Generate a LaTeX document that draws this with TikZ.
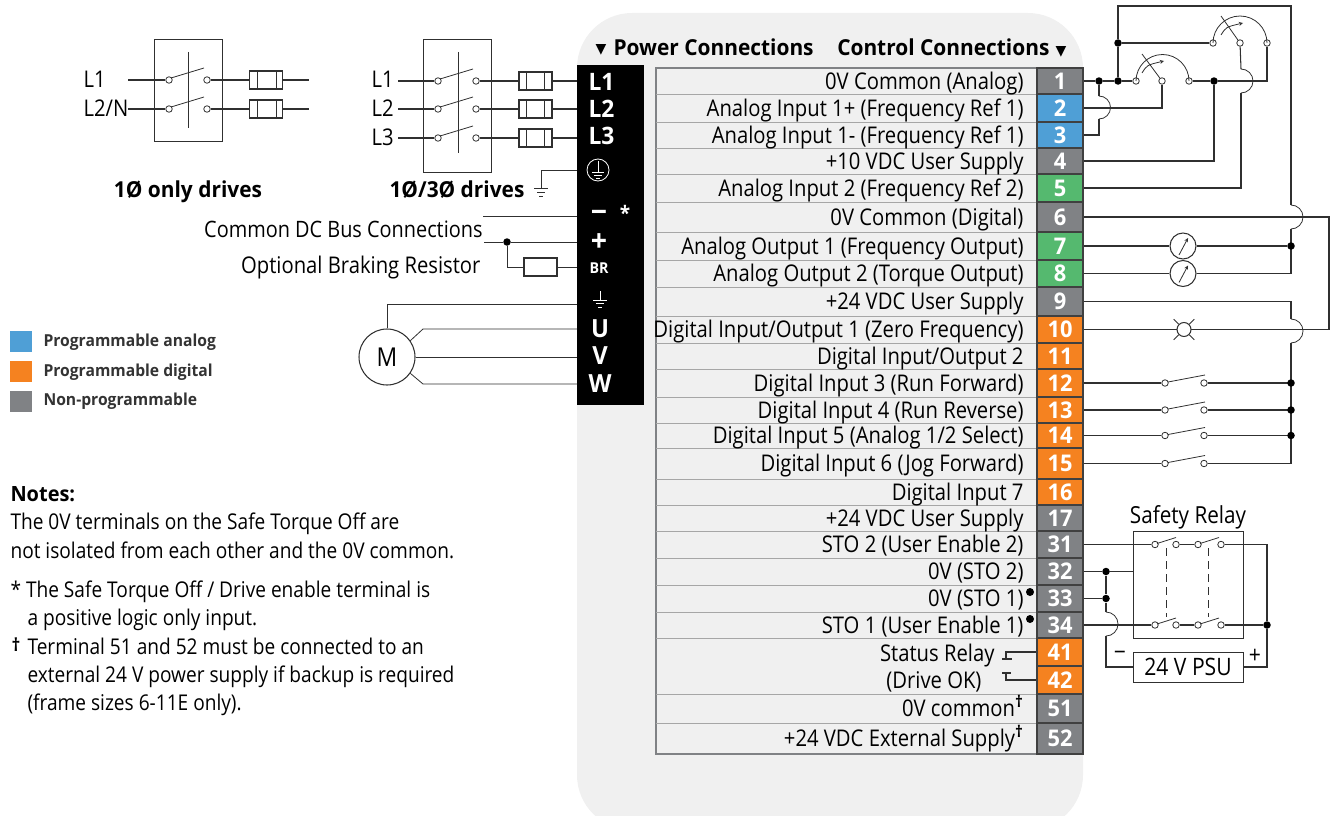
\documentclass[tikz,border=0pt]{standalone}
\usepackage{fontspec}
\setmainfont{Open Sans}[FakeStretch=0.88, BoldFeatures={FakeStretch=0.95}]
\newfontfamily\symfont{DejaVu Sans}
\usepackage{xcolor}
\usepackage{tikz}
\usetikzlibrary{arrows,shapes}
\definecolor{panelgray}{HTML}{F0F0F0}
\definecolor{termgray}{HTML}{808285}
\definecolor{termblue}{HTML}{4F9FD6}
\definecolor{termgreen}{HTML}{55B96F}
\definecolor{termorange}{HTML}{F58220}
\definecolor{wirecol}{HTML}{303030}
\begin{document}
\begin{tikzpicture}[x=1pt, y=-1pt, >=stealth, line width=1.05pt, inner sep=0pt]

      \tikzstyle{wire}=[draw=wirecol]
      \tikzstyle{thin wire}=[draw=wirecol, line width=0.8pt]
      \tikzstyle{opn}=[circle, draw=wirecol, fill=white, line width=0.8pt, minimum size=6.5pt]
      \tikzstyle{dot}=[circle, fill=black, minimum size=7.5pt]
      \tikzstyle{term}=[rectangle, draw=black!75, minimum width=46pt, text=white, font=\fontsize{23}{27}\selectfont\bfseries]
      \tikzstyle{rowtext}=[anchor=base east, font=\fontsize{23}{27}\selectfont]
      \tikzstyle{plain}=[anchor=base west, font=\fontsize{23}{27}\selectfont]
      \tikzstyle{heading}=[anchor=base, font=\fontsize{22}{26}\selectfont\bfseries]
      \tikzstyle{blk}=[text=white, font=\fontsize{25}{29}\selectfont\bfseries]
      \tikzstyle{fuse}=[rectangle, draw=wirecol, fill=white, minimum width=33pt, minimum height=18pt]
      \tikzstyle{sw box}=[rectangle, draw=wirecol, line width=0.9pt]
      \tikzstyle{meter}=[circle, draw=wirecol, fill=white, minimum size=26pt]
      \tikzstyle{legend}=[rectangle, minimum width=22pt, minimum height=21pt]
      \tikzstyle{legtext}=[anchor=base west, font=\fontsize{16.5}{20}\selectfont\bfseries, text=black!80]
      \tikzstyle{notetext}=[anchor=base west, font=\fontsize{21.7}{25}\selectfont]

      \useasboundingbox (0,0) rectangle (1332,816);
      \fill[panelgray, rounded corners=55pt] (577,13) rectangle (1083,830);
      \fill[white] (570,816) rectangle (1090,830);

      \node[heading, anchor=base west] (hpower) at (613,56) {Power Connections};
      \node[heading, anchor=base east] (hcontrol) at (1050,56) {Control Connections};
      \node[font=\symfont\fontsize{14}{16}\selectfont] (tripower) at (601,50) {▼};
      \node[font=\symfont\fontsize{14}{16}\selectfont] (tricontrol) at (1061,52) {▼};

      \draw[termgray, line width=1.2pt] (656,68) rectangle (1037,754);
      \foreach \y in {94,122,148,174,202,232,260,287,316,343,369,397,423,448,479,505,531,558,585,612,638,694,723}
        \draw[black!35, line width=1pt] (656,\y) -- (1037,\y);

      \foreach \n/\ya/\yb/\col/\txt in {
        1/68/94/termgray/{0V Common (Analog)},
        2/94/122/termblue/{Analog Input 1+ (Frequency Ref 1)},
        3/122/148/termblue/{Analog Input 1- (Frequency Ref 1)},
        4/148/174/termgray/{+10 VDC User Supply},
        5/174/202/termgreen/{Analog Input 2 (Frequency Ref 2)},
        6/202/232/termgray/{0V Common (Digital)},
        7/232/260/termgreen/{Analog Output 1 (Frequency Output)},
        8/260/287/termgreen/{Analog Output 2 (Torque Output)},
        9/287/316/termgray/{+24 VDC User Supply},
        10/316/343/termorange/{Digital Input/Output 1 (Zero Frequency)},
        11/343/369/termorange/{Digital Input/Output 2},
        12/369/397/termorange/{Digital Input 3 (Run Forward)},
        13/397/423/termorange/{Digital Input 4 (Run Reverse)},
        14/423/448/termorange/{Digital Input 5 (Analog 1/2 Select)},
        15/448/479/termorange/{Digital Input 6 (Jog Forward)},
        16/479/505/termorange/{Digital Input 7},
        17/505/531/termgray/{+24 VDC User Supply},
        31/531/558/termgray/{STO 2 (User Enable 2)},
        32/558/585/termgray/{0V (STO 2)},
        33/585/612/termgray/{0V (STO 1)},
        34/612/638/termgray/{STO 1 (User Enable 1)},
        41/638/666/termorange/{},
        42/666/694/termorange/{},
        51/694/723/termgray/{0V common\textsuperscript{\bfseries †}},
        52/723/754/termgray/{+24 VDC External Supply\textsuperscript{\bfseries †}}} {
        \pgfmathsetmacro{\ymid}{(\ya+\yb)/2}
        \pgfmathsetmacro{\yh}{\yb-\ya}
        \node[term, fill=\col, minimum height=\yh pt] (t\n) at (1060,\ymid) {\n};
        \node[rowtext] (r\n) at (1024,\ymid+8) {\txt};
      }
      \node[dot, minimum size=8pt] (b33) at (1030,592) {};
      \node[dot, minimum size=8pt] (b34) at (1030,619) {};
      \node[rowtext] (status) at (995,661) {Status Relay};
      \node[rowtext] (driveok) at (982,688) {(Drive OK)};

      \coordinate (c41a) at (1006,0 |- t41);
      \coordinate (c41b) at (1006,659);
      \coordinate (c42a) at (1006,0 |- t42);
      \coordinate (c42b) at (1006,673);
      \draw[wire] (t41.west) -- (c41a) -- (c41b);
      \draw[wire] (t42.west) -- (c42a) -- (c42b);
      \draw[wire] (1002,659) -- (1012,659);
      \draw[wire] (1002,673) -- (1011,673);

      \node[dot] (d1) at (1099,0 |- t1) {};
      \node[dot] (d2) at (1118,0 |- t1) {};
      \node[opn] (p1a) at (1136,0 |- t1) {};
      \node[opn] (p1b) at (1162,0 |- t1) {};
      \node[opn] (p1c) at (1189,0 |- t1) {};
      \node[dot] (d3) at (1214,0 |- t1) {};
      \node[dot] (d4) at (1118,43) {};
      \node[opn] (p2a) at (1213,43) {};
      \node[opn] (p2b) at (1240,43) {};
      \node[opn] (p2c) at (1267,43) {};
      \coordinate (c1top) at (1118,6);
      \coordinate (c1right) at (1291,6);
      \coordinate (c1end) at (1267,0 |- t1);
      \coordinate (j2a) at (1099,96);
      \coordinate (j2b) at (1099,119);
      \coordinate (c3) at (1099,0 |- t3);
      \coordinate (c2) at (1162,0 |- t2);
      \coordinate (c4) at (1214,0 |- t4);
      \coordinate (c5) at (1241,0 |- t5);
      \coordinate (j5a) at (1241,93);
      \coordinate (j5b) at (1241,69);
      \coordinate (j6a) at (1291,205);
      \coordinate (j6b) at (1291,229);
      \coordinate (j10a) at (1291,319);
      \coordinate (j10b) at (1291,343);
      \coordinate (c6) at (1329,0 |- t6);
      \coordinate (c10) at (1329,0 |- t10);
      \coordinate (c8) at (1291,0 |- t8);
      \coordinate (c9) at (1291,0 |- t9);
      \coordinate (c15) at (1291,0 |- t15);

      \draw[wire] (t1.east) -- (d1) -- (d2) -- (p1a) (p1c) -- (d3) -- (c1end) -- (p2c);
      \draw[wire] (d2) -- (d4) -- (c1top) -- (c1right) -- (j6a);
      \draw[wire] (d4) -- (p2a);
      \draw[thin wire] (j6a) arc[start angle=-90, end angle=90, radius=12];
      \draw[wire] (j6b) -- (c8);
      \draw[wire] (t2.east) -- (c2) -- (p1b);
      \draw[wire] (t3.east) -- (c3) -- (j2b);
      \draw[thin wire] (j2a) arc[start angle=-90, end angle=90, radius=11.5];
      \draw[wire] (j2a) -- (d1);
      \draw[wire] (t4.east) -- (c4) -- (d3);
      \draw[wire] (t5.east) -- (c5) -- (j5a);
      \draw[thin wire] (j5b) arc[start angle=-90, end angle=90, radius=12];
      \draw[wire] (j5b) -- (p2b);
      \draw[wire] (t6.east) -- (c6) -- (c10) -- (t10.east);
      \draw[wire] (t9.east) -- (c9) -- (j10a);
      \draw[thin wire] (j10a) arc[start angle=-90, end angle=90, radius=12];
      \draw[wire] (j10b) -- (c15);

      \draw[thin wire] (p1a) arc[start angle=180, end angle=360, radius=26.5];
      \draw[thin wire] (p2a) arc[start angle=180, end angle=360, radius=27];
      \draw[thin wire] (1142,54) -- (p1b);
      \draw[thin wire] (1221,16) -- (p2b);
      \draw[thin wire, ->] (1142,73) .. controls (1147,65) .. (1164,61);
      \draw[thin wire, ->] (1221,35) .. controls (1226,27) .. (1243,23);

      \node[meter] (m7) at (1183,0 |- t7) {};
      \node[meter] (m8) at (1183,0 |- t8) {};
      \node[dot] (d7) at (1291,0 |- t7) {};
      \draw[wire] (t7.east) -- (m7) -- (d7);
      \draw[wire] (t8.east) -- (m8) -- (c8);
      \draw[thin wire, ->] ([shift={(-4,9)}]m7.center) -- ([shift={(5,-8)}]m7.center);
      \draw[thin wire, ->] ([shift={(-4,9)}]m8.center) -- ([shift={(5,-8)}]m8.center);

      \node[circle, draw=wirecol, fill=white, minimum size=14pt] (l10) at (1184,0 |- t10) {};
      \draw[thin wire] (l10.45) -- ++(5,-5) (l10.135) -- ++(-5,-5) (l10.225) -- ++(-5,5) (l10.315) -- ++(5,5);

      \foreach \n in {12,13,14,15} {
        \node[opn] (a\n) at (1165,0 |- t\n) {};
        \node[opn] (b\n) at (1204,0 |- t\n) {};
        \draw[wire] (t\n.east) -- (a\n) (b\n) -- (1291,0 |- t\n);
        \draw[thin wire] (a\n) ++(3,-1) -- ++(37,-7);
      }
      \foreach \n in {12,13,14}
        \node[dot] (e\n) at (1291,0 |- t\n) {};

      \node[sw box, minimum width=110pt, minimum height=107pt] (relay) at (1188,584.5) {};
      \node[font=\fontsize{23.5}{27}\selectfont] (relaytxt) at (1188,517) {Safety Relay};
      \node[sw box, minimum width=110pt, minimum height=30pt, font=\fontsize{24}{28}\selectfont] (psu) at (1188,667) {24 V PSU};
      \foreach \n/\x in {a/1155,b/1176,c/1198,d/1221} {
        \node[opn] (s31\n) at (\x,0 |- t31) {};
        \node[opn] (s34\n) at (\x,0 |- t34) {};
      }
      \node[dot] (d32) at (1106,0 |- t32) {};
      \node[dot] (d33) at (1106,0 |- t33) {};
      \node[dot] (d34) at (1267,0 |- t34) {};
      \coordinate (c31) at (1267,0 |- t31);
      \coordinate (c32) at (1133,0 |- t32);
      \coordinate (j34a) at (1106,612);
      \coordinate (j34b) at (1106,636);
      \coordinate (cpm) at (1106,0 |- psu);
      \coordinate (cpp) at (1267,0 |- psu);
      \draw[wire] (t31.east) -- (s31a) (s31b) -- (s31c) (s31d) -- (c31) -- (d34) -- (cpp) -- (psu.east);
      \draw[wire] (t32.east) -- (d32) -- (c32);
      \draw[wire] (t33.east) -- (d33);
      \draw[wire] (d32) -- (d33) -- (j34a);
      \draw[thin wire] (j34a) arc[start angle=-90, end angle=90, radius=12];
      \draw[wire] (j34b) -- (cpm) -- (psu.west);
      \draw[wire] (t34.east) -- (s34a) (s34b) -- (s34c) (s34d) -- (d34);
      \draw[thin wire] (s31a) ++(2,-1) -- ++(19,-6);
      \draw[thin wire] (s31c) ++(2,-1) -- ++(19,-6);
      \draw[thin wire] (s34a) ++(2,-1) -- ++(19,-6);
      \draw[thin wire] (s34c) ++(2,-1) -- ++(19,-6);
      \draw[thin wire, dash pattern=on 8pt off 5pt] (1166,548) -- (1166,617);
      \draw[thin wire, dash pattern=on 8pt off 5pt] (1208,548) -- (1208,617);
      \node[font=\fontsize{24}{28}\selectfont] (psuminus) at (1120,656) {−};
      \node[font=\fontsize{24}{28}\selectfont] (psuplus) at (1255,656) {+};

      \fill[black] (577,65) rectangle (644,405);
      \foreach \n/\x/\y/\txt in {tL1/588/82/L1,tL2/588/109/L2,tL3/588/136/L3}
        \node[blk, anchor=west, font=\fontsize{24}{28}\selectfont\bfseries] (\n) at (\x,\y) {\txt};
      \node[blk, font=\fontsize{30}{32}\selectfont\bfseries] (tminus) at (599,216) {−};
      \node[blk, font=\fontsize{20}{22}\selectfont\bfseries] (tstar) at (625,213) {*};
      \node[blk, font=\fontsize{30}{32}\selectfont\bfseries] (tplus) at (599,243) {+};
      \node[blk, font=\fontsize{15}{18}\selectfont\bfseries] (tBR) at (599,268) {BR};
      \node[blk] (tU) at (600,329) {U};
      \node[blk] (tV) at (600,356) {V};
      \node[blk] (tW) at (600,384) {W};
      \node[circle, draw=white, minimum size=22pt, line width=0.8pt] (tpe) at (598,170) {};
      \draw[white, line width=0.8pt] (598,161) -- (598,172) (592,172) -- (604,172) (594,175) -- (602,175) (596,178) -- (600,178);
      \draw[white, line width=0.8pt] (600,291) -- (600,300) (593,300) -- (607,300) (596,303) -- (604,303) (598,307) -- (602,307);

      \node[plain] (lL1) at (83,87) {L1};
      \node[plain] (lL2) at (83,116) {L2/N};
      \node[sw box, minimum width=68pt, minimum height=102pt] (swa) at (188,90) {};
      \draw[thin wire] (188,52) -- (188,128);
      \foreach \n/\y in {1/80,2/109} {
        \coordinate (aL\n) at (128,\y);
        \node[opn] (ax\n) at (169,\y) {};
        \node[opn] (ay\n) at (207,\y) {};
        \node[fuse] (af\n) at (266,\y) {};
        \coordinate (ao\n) at (309,\y);
        \draw[wire] (aL\n) -- (ax\n) (ay\n) -- (af\n) -- (ao\n);
        \draw[thin wire] (ax\n) ++(2,-2) -- ++(33,-10);
        \draw[thin wire] (257,\y-9) -- (257,\y+9) (276,\y-9) -- (276,\y+9);
      }
      \node[heading] (only) at (188,197) {1Ø only drives};

      \node[plain] (bL1) at (371,87) {L1};
      \node[plain] (bL2) at (371,116) {L2};
      \node[plain] (bL3) at (371,145) {L3};
      \node[sw box, minimum width=68pt, minimum height=133pt] (swb) at (457,105.5) {};
      \draw[thin wire] (458,52) -- (458,153);
      \foreach \n/\y in {1/81,2/109,3/138} {
        \coordinate (bi\n) at (398,\y);
        \coordinate (bo\n) at (577,\y);
        \node[opn] (bx\n) at (438,\y) {};
        \node[opn] (by\n) at (476,\y) {};
        \node[fuse] (bf\n) at (535.5,\y) {};
        \draw[wire] (bi\n) -- (bx\n) (by\n) -- (bf\n) -- (bo\n);
        \draw[thin wire] (bx\n) ++(2,-2) -- ++(33,-10);
        \draw[thin wire] (526,\y-9) -- (526,\y+9) (544,\y-9) -- (544,\y+9);
      }
      \node[heading] (both) at (457,197) {1Ø/3Ø drives};
      \coordinate (pe0) at (577,170);
      \coordinate (pe1) at (541,170);
      \coordinate (pe2) at (541,188);
      \draw[thin wire] (pe0) -- (pe1) -- (pe2);
      \draw[thin wire] (534,188) -- (548,188) (537,192) -- (545,192) (539,196) -- (543,196);

      \node[rowtext, font=\fontsize{22.6}{27}\selectfont] (busTxt) at (483,237) {Common DC Bus Connections};
      \node[rowtext] (brTxt) at (481,273) {Optional Braking Resistor};
      \coordinate (dcm0) at (483,216);
      \coordinate (dcm1) at (577,216);
      \coordinate (dcp0) at (484,242);
      \coordinate (dcp1) at (577,242);
      \node[dot] (dcd) at (507,242) {};
      \coordinate (dcb) at (507,267);
      \coordinate (dce) at (577,267);
      \node[fuse] (res) at (540.5,267) {};
      \draw[thin wire] (dcm0) -- (dcm1);
      \draw[thin wire] (dcp0) -- (dcd) -- (dcp1);
      \draw[thin wire] (dcd) -- (dcb) -- (res) -- (dce);

      \node[circle, draw=wirecol, minimum size=56pt, font=\fontsize{26}{30}\selectfont] (motor) at (387,357) {M};
      \coordinate (me1) at (387,304);
      \coordinate (me2) at (577,304);
      \coordinate (mu1) at (423,329);
      \coordinate (mu2) at (577,329);
      \coordinate (mv2) at (577,357);
      \coordinate (mw1) at (423,384);
      \coordinate (mw2) at (577,384);
      \draw[thin wire] (motor.north) -- (me1) -- (me2);
      \draw[thin wire] (motor.35) -- (mu1) -- (mu2);
      \draw[thin wire] (motor.east) -- (mv2);
      \draw[thin wire] (motor.-35) -- (mw1) -- (mw2);

      \node[legend, fill=termblue] (kblue) at (21,341.5) {};
      \node[legend, fill=termorange] (korange) at (21,371.5) {};
      \node[legend, fill=termgray] (kgray) at (21,401.5) {};
      \node[legtext] (tblue) at (43,346) {Programmable analog};
      \node[legtext] (torange) at (43,376) {Programmable digital};
      \node[legtext] (tgray) at (43,405) {Non-programmable};

      \node[notetext, font=\fontsize{21}{25}\selectfont\bfseries] (notes) at (10,501) {Notes:};
      \foreach \n/\x/\y/\txt in {
        a/10/529/{The 0V terminals on the Safe Torque Off are},
        b/10/558/{not isolated from each other and the 0V common.},
        c/10/597/{* The Safe Torque Off / Drive enable terminal is},
        d/27/625/{a positive logic only input.},
        e/27/654/{Terminal 51 and 52 must be connected to an},
        f/27/682/{external 24 V power supply if backup is required},
        g/27/710/{(frame sizes 6-11E only).}}
        \node[notetext] (note\n) at (\x,\y) {\txt};
      \node[notetext, font=\fontsize{18}{20}\selectfont\bfseries] (dagnote) at (11,651) {†};
    \end{tikzpicture}
\end{document}
